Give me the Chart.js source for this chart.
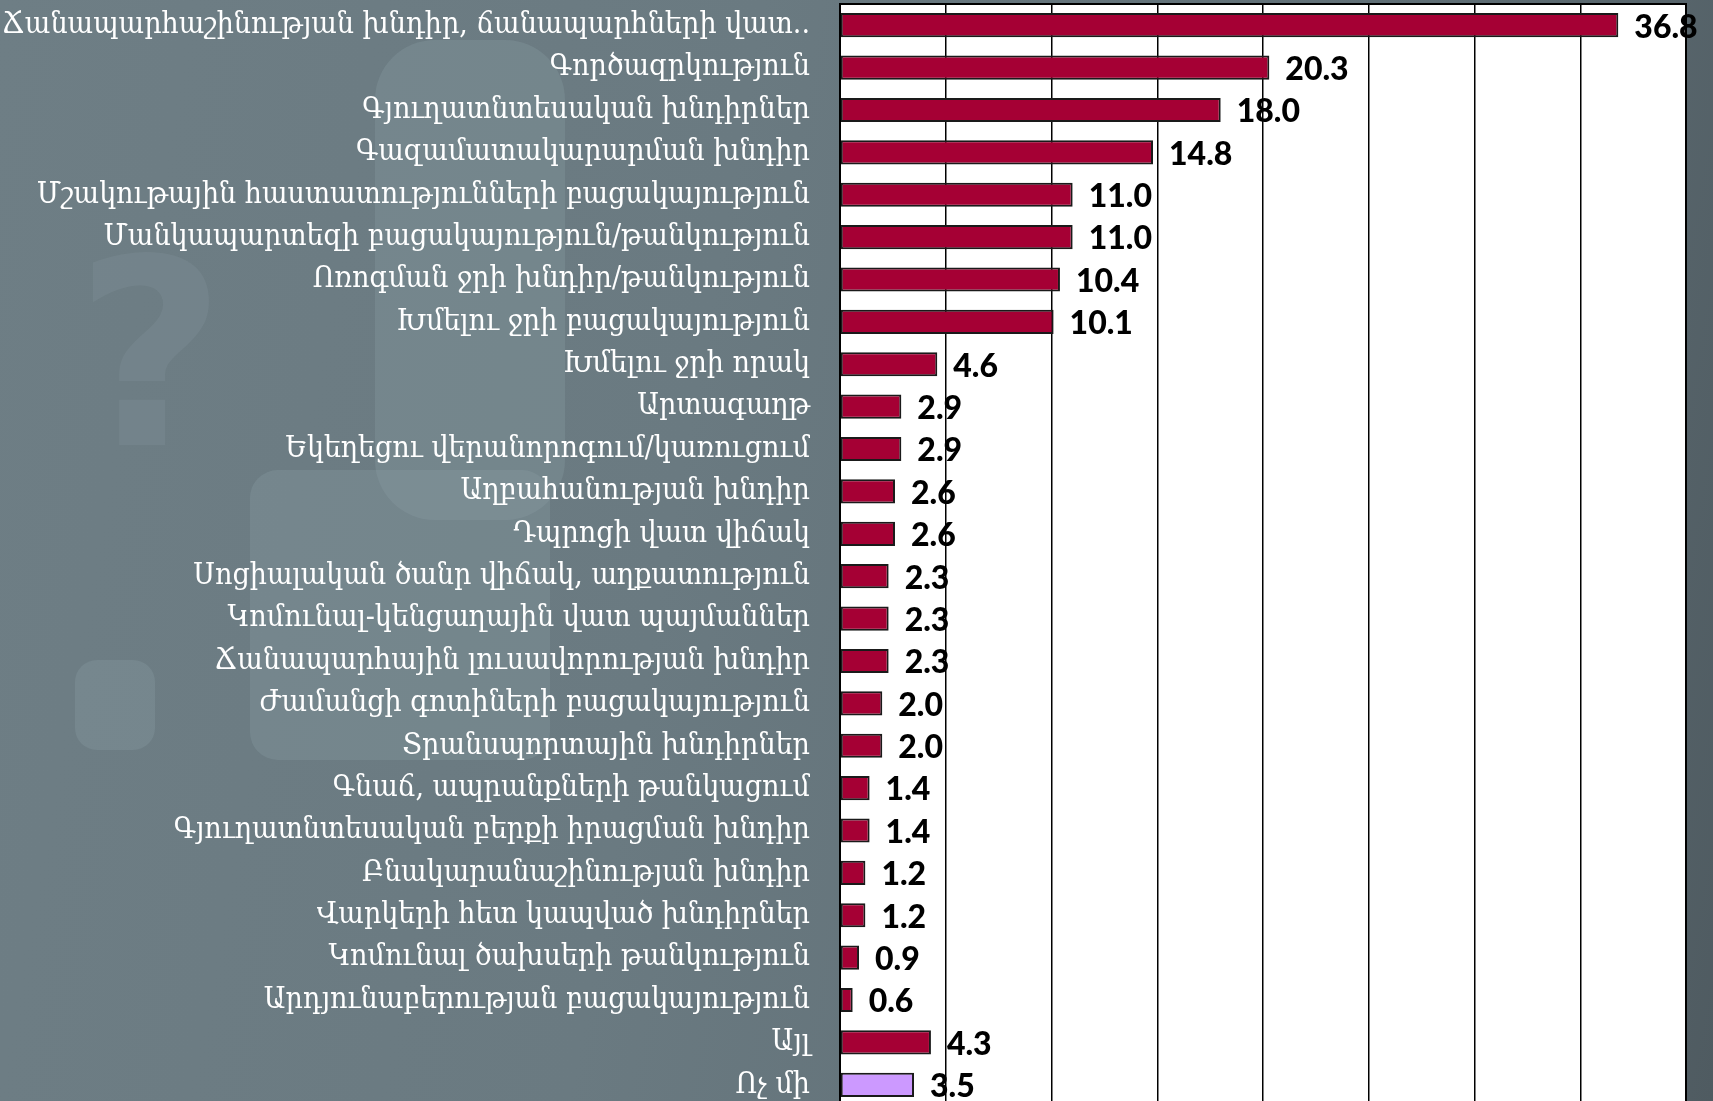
<!DOCTYPE html>
<html>
<head>
<meta charset="utf-8">
<title>Problems chart</title>
<script src="https://cdn.jsdelivr.net/npm/chart.js@4.4.1/dist/chart.umd.min.js"></script>
<style>
    html, body {
        margin: 0;
        padding: 0;
        width: 1713px;
        height: 1101px;
        overflow: hidden;
    }
    body {
        background: linear-gradient(100deg, #6e7e85 0%, #6a7a81 40%, #5f6e75 75%, #4f5b61 100%);
        position: relative;
    }
    .ghost {
        position: absolute;
        background: rgba(140, 158, 165, 0.3);
        border-radius: 28px;
    }
    .ghost-q {
        position: absolute;
        left: 75px;
        top: 225px;
        font-family: 'DejaVu Sans', sans-serif;
        font-weight: bold;
        font-size: 260px;
        line-height: 1;
        color: rgba(135, 152, 158, 0.25);
    }
    .chart-container {
        position: absolute;
        left: 0;
        top: 0;
        width: 1713px;
        height: 1112px;
    }
</style>
</head>
<body>
<div class="ghost" style="left:375px; top:40px; width:190px; height:480px; border-radius:60px;"></div>
<div class="ghost" style="left:250px; top:470px; width:300px; height:290px;"></div>
<div class="ghost" style="left:75px; top:660px; width:80px; height:90px; border-radius:22px;"></div>
<div class="ghost-q">?</div>
<div class="chart-container">
    <canvas id="problemsChart" width="1713" height="1112"></canvas>
</div>
<script>
const categories = [
    'Ճանապարհաշինության խնդիր, ճանապարհների վատ..',
    'Գործազրկություն',
    'Գյուղատնտեսական խնդիրներ',
    'Գազամատակարարման խնդիր',
    'Մշակութային հաստատությունների բացակայություն',
    'Մանկապարտեզի բացակայություն/թանկություն',
    'Ոռոգման ջրի խնդիր/թանկություն',
    'Խմելու ջրի բացակայություն',
    'Խմելու ջրի որակ',
    'Արտագաղթ',
    'Եկեղեցու վերանորոգում/կառուցում',
    'Աղբահանության խնդիր',
    'Դպրոցի վատ վիճակ',
    'Սոցիալական ծանր վիճակ, աղքատություն',
    'Կոմունալ-կենցաղային վատ պայմաններ',
    'Ճանապարհային լուսավորության խնդիր',
    'Ժամանցի գոտիների բացակայություն',
    'Տրանսպորտային խնդիրներ',
    'Գնաճ, ապրանքների թանկացում',
    'Գյուղատնտեսական բերքի իրացման խնդիր',
    'Բնակարանաշինության խնդիր',
    'Վարկերի հետ կապված խնդիրներ',
    'Կոմունալ ծախսերի թանկություն',
    'Արդյունաբերության բացակայություն',
    'Այլ',
    'Ոչ մի'
];

const shares = [36.8, 20.3, 18.0, 14.8, 11.0, 11.0, 10.4, 10.1, 4.6, 2.9, 2.9, 2.6, 2.6,
                2.3, 2.3, 2.3, 2.0, 2.0, 1.4, 1.4, 1.2, 1.2, 0.9, 0.6, 4.3, 3.5];

// x axis runs 0..40 with a grid line every 5, no tick labels shown
const axisMin = 0;
const axisMax = 40;
const axisStep = 5;

const barRed = '#a50034';
const barLilac = '#cc99ff';

function barColors() {
    return categories.map(name => name === 'Ոչ մի' ? barLilac : barRed);
}

// white plot area with a black frame
const plotFrame = {
    id: 'plotFrame',
    beforeDraw(chart) {
        const a = chart.chartArea;
        const ctx = chart.ctx;
        ctx.save();
        ctx.fillStyle = '#ffffff';
        ctx.fillRect(a.left, a.top, a.right - a.left, a.bottom - a.top);
        ctx.restore();
    },
    afterDatasetsDraw(chart) {
        const a = chart.chartArea;
        const ctx = chart.ctx;
        ctx.save();
        ctx.strokeStyle = '#000000';
        ctx.lineWidth = 2;
        ctx.strokeRect(a.left, a.top, a.right - a.left, a.bottom - a.top);
        ctx.restore();
    }
};

// bold value at the end of each bar
const valueLabels = {
    id: 'valueLabels',
    afterDraw(chart) {
        const ctx = chart.ctx;
        const meta = chart.getDatasetMeta(0);
        ctx.save();
        ctx.font = '900 32px Lato, "Liberation Sans", sans-serif';
        ctx.fillStyle = '#000000';
        ctx.textAlign = 'left';
        ctx.textBaseline = 'middle';
        meta.data.forEach((bar, i) => {
            ctx.fillText(shares[i].toFixed(1), bar.x + 16, bar.y + 2);
        });
        ctx.restore();
    }
};

function loadProblemsChart() {
    const chartCanvas = document.getElementById('problemsChart');
    if (!chartCanvas) {
        console.error('Chart canvas not found!');
        return;
    }

    const ctx = chartCanvas.getContext('2d');
    chartCanvas.chart = new Chart(ctx, {
        type: 'bar',
        data: {
            labels: categories,
            datasets: [
                {
                    label: '%',
                    data: shares,
                    backgroundColor: barColors(),
                    borderColor: '#1a1a1a',
                    borderWidth: 2,
                    borderSkipped: false,
                    barPercentage: 0.57,
                    categoryPercentage: 1.0
                }
            ]
        },
        options: {
            indexAxis: 'y',
            responsive: false,
            animation: false,
            layout: {
                padding: { top: 4, right: 27, bottom: 6, left: 0 }
            },
            plugins: {
                legend: { display: false },
                tooltip: { enabled: false }
            },
            scales: {
                x: {
                    min: axisMin,
                    max: axisMax,
                    ticks: { display: false, stepSize: axisStep },
                    grid: {
                        color: '#000000',
                        lineWidth: 1.5,
                        drawTicks: false
                    },
                    border: { display: false },
                    afterFit(scale) {
                        scale.height = 0;
                    }
                },
                y: {
                    grid: { display: false, drawTicks: false },
                    border: { display: false },
                    ticks: {
                        color: '#ffffff',
                        padding: 30,
                        autoSkip: false,
                        font: {
                            family: '"DejaVu Serif Condensed", "DejaVu Serif", serif',
                            size: 30
                        }
                    },
                    afterFit(scale) {
                        // fixed gutter for the labels, no extra top/bottom room
                        scale.width = 840;
                        scale.paddingTop = 0;
                        scale.paddingBottom = 0;
                    }
                }
            }
        },
        plugins: [plotFrame, valueLabels]
    });

    console.log('Chart created successfully!');
}

loadProblemsChart();
</script>
</body>
</html>
